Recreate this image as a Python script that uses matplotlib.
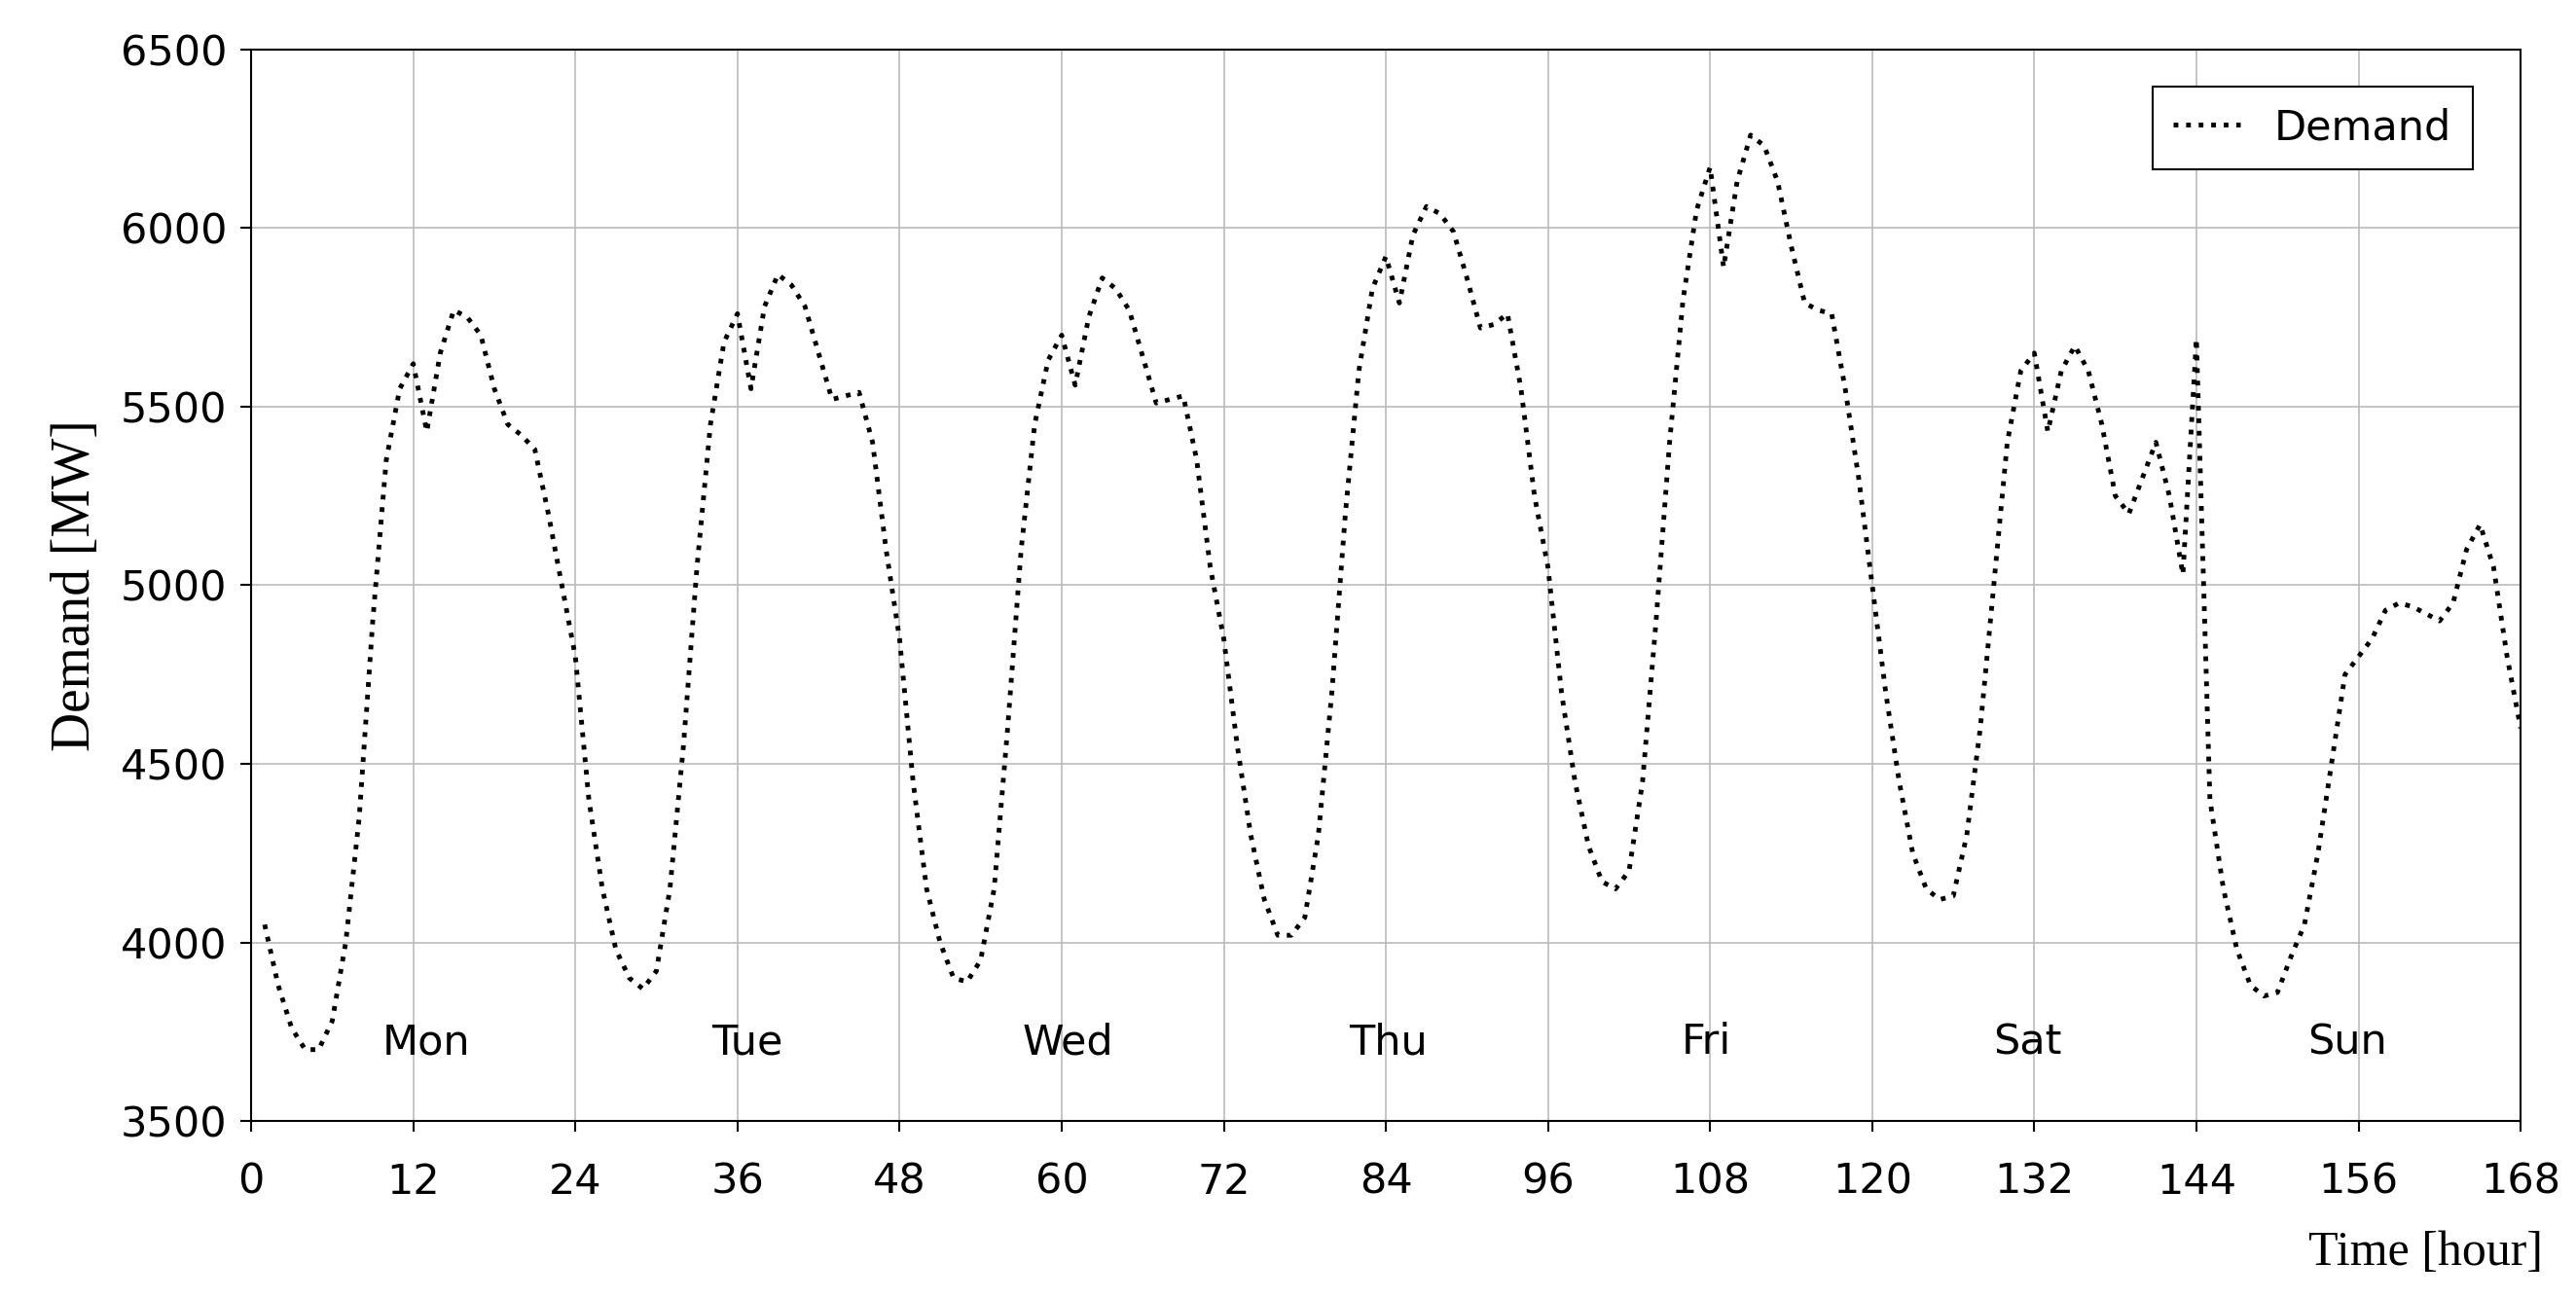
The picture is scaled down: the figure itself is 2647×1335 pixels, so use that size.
import numpy as np
import matplotlib.pyplot as plt

hours = np.arange(1, 169)
demand = [
    4050, 3880, 3760, 3700, 3700, 3780, 4000, 4350, 4900, 5350, 5550, 5620,
    5430, 5650, 5770, 5750, 5700, 5550, 5450, 5420, 5380, 5200, 5000, 4800,
    4400, 4150, 3980, 3900, 3870, 3920, 4150, 4550, 5050, 5450, 5680, 5760,
    5550, 5780, 5870, 5840, 5780, 5650, 5520, 5530, 5540, 5400, 5100, 4850,
    4450, 4150, 4000, 3900, 3890, 3950, 4150, 4600, 5100, 5450, 5630, 5700,
    5560, 5750, 5860, 5830, 5770, 5640, 5510, 5520, 5530, 5350, 5050, 4850,
    4550, 4300, 4120, 4020, 4020, 4070, 4300, 4700, 5200, 5600, 5830, 5920,
    5790, 5980, 6060, 6040, 5990, 5860, 5720, 5730, 5760, 5550, 5250, 5050,
    4700, 4450, 4270, 4170, 4150, 4200, 4450, 4900, 5400, 5800, 6050, 6170,
    5890, 6130, 6260, 6230, 6130, 5950, 5790, 5770, 5760, 5550, 5300, 5000,
    4700, 4450, 4250, 4150, 4120, 4130, 4300, 4600, 5000, 5400, 5600, 5650,
    5430, 5600, 5670, 5600, 5450, 5250, 5200, 5300, 5400, 5250, 5030, 5690,
    4400, 4150, 3980, 3880, 3850, 3860, 3960, 4050, 4250, 4500, 4750, 4800,
    4850, 4930, 4950, 4940, 4920, 4900, 4950, 5100, 5170, 5050, 4800, 4600,
]
days = ["Mon", "Tue", "Wed", "Thu", "Fri", "Sat", "Sun"]
day_x = [13, 36.7, 60.5, 84.2, 107.7, 131.5, 155.2]

fig = plt.figure(figsize=(26.47, 13.35), dpi=100)
ax = fig.add_axes([0.0975, 0.137, 0.881, 0.825])
ax.plot(hours, demand, color="black", linestyle=":", linewidth=3.5, label="Demand")

ax.set_xlim(0, 168)
ax.set_ylim(3500, 6500)
ax.set_xticks(np.arange(0, 169, 12))
ax.set_yticks(np.arange(3500, 6501, 500))
ax.grid(True, color="#bbbbbb", linewidth=1.2)
ax.tick_params(labelsize=31, length=8, width=1.5)
ax.tick_params(axis="x", pad=22)
ax.tick_params(axis="y", pad=10)
for s in ax.spines.values():
    s.set_linewidth(1.5)

for d, x in zip(days, day_x):
    ax.text(x, 3720, d, fontsize=31, ha="center", va="center")

ax.set_ylabel("Demand [MW]", family="Liberation Serif", fontsize=40, labelpad=14)
fig.text(0.987, 0.018, "Time [hour]", family="Liberation Serif", fontsize=36, ha="right", va="bottom")

leg = ax.legend(loc="upper right", fontsize=31, fancybox=False, framealpha=1,
                edgecolor="black", handlelength=1.6, borderpad=0.5,
                bbox_to_anchor=(0.988, 0.985))
leg.get_frame().set_linewidth(1.5)

fig.savefig("out.png", dpi=100)
